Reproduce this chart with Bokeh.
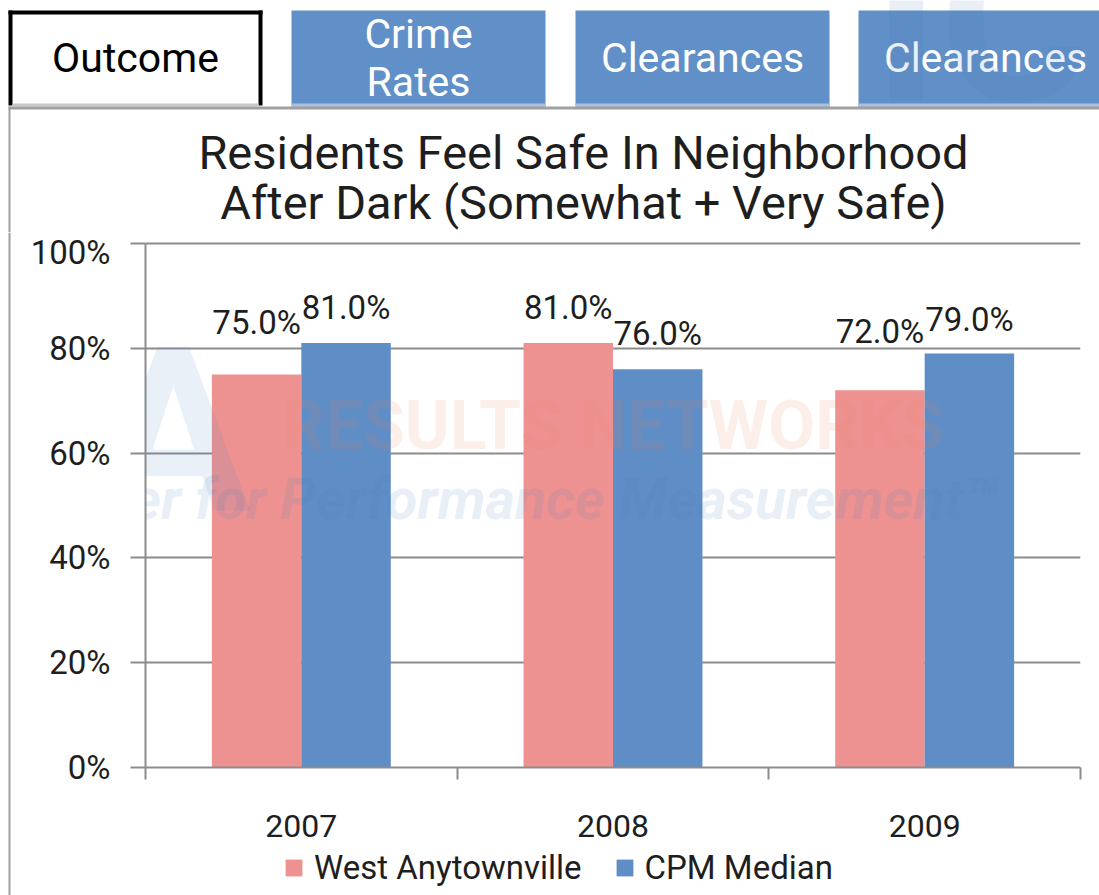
from bokeh.plotting import figure
from bokeh.layouts import column, row
from bokeh.models import (Range1d, LinearAxis, FixedTicker, ColumnDataSource,
                          LabelSet, Label, Legend, LegendItem, Grid)
from bokeh.transform import dodge
from bokeh.core.properties import value
from bokeh.embed import file_html
from bokeh.resources import INLINE

# ---------------- data ----------------
years = ["2007", "2008", "2009"]
west_anytownville = [0.75, 0.81, 0.72]
cpm_median = [0.81, 0.76, 0.79]
series_names = ["West Anytownville", "CPM Median"]
y_ticks = [0, 0.2, 0.4, 0.6, 0.8, 1.0]
y_tick_labels = ["0%", "20%", "40%", "60%", "80%", "100%"]
title_lines = ["Residents Feel Safe In Neighborhood", "After Dark (Somewhat + Very Safe)"]
tab_labels = [["Outcome"], ["Crime", "Rates"], ["Clearances"], ["Clearances"]]

# ---------------- style / layout ----------------
PINK = "#ee9191"
BLUE = "#5f8dc5"
TAB_BLUE = "#618fc7"
GRAY = "#8c8c8c"
FRAME_GRAY = "#a0a0a0"
TXT = "#1e1e1e"
FONT = "Roboto"
W, H = 1099, 895
TOP_H = 232          # header (tabs + title) height
CHART_BOTTOM = 849   # where the chart canvas ends and the legend strip begins
STRIP_W = 11         # left strip holding the slide-panel border line
FRAME_LEFT = 145
OFF = 0.1435
BAR_W = 0.287
wa_lift = [41, 24, 47]
cpm_lift = [24, 24, 23]


def blank(width, height, xr, yr):
    f = figure(width=width, height=height, x_range=xr, y_range=yr, output_backend="svg",
               toolbar_location=None, x_axis_location=None, y_axis_location=None,
               min_border=0, outline_line_color=None, background_fill_color="white",
               border_fill_color="white")
    f.center = []
    return f


# ---------------- header: tabs + title (pixel coordinates) ----------------
top = blank(W, TOP_H, Range1d(0, W), Range1d(TOP_H, 0))
top.quad(left=[291, 575, 858], right=[545, 829, 1110], top=10, bottom=106,
         fill_color=TAB_BLUE, line_color=None)
top.quad(left=[291, 575, 858], right=[545, 829, 1110], top=103, bottom=106,
         fill_color="#a9c1de", line_color=None)
top.quad(left=[8, 8, 258], right=[12, 262, 262], top=[10, 10, 10], bottom=[105, 14, 105],
         fill_color="black", line_color=None)
top.quad(left=12, right=258, top=103, bottom=106, fill_color="#c8c8c8", line_color=None)
top.quad(left=[8, 8], right=[W, 10], top=[106, 106], bottom=[109, TOP_H],
         fill_color=FRAME_GRAY, line_color=None)

tab_x, tab_y, tab_t, tab_c = [], [], [], []
for i, (cx, lines) in enumerate(zip([135, 418, 702, 985], tab_labels)):
    ys = [57] if len(lines) == 1 else [33, 81]
    for ln, yy in zip(lines, ys):
        tab_x.append(cx)
        tab_y.append(yy)
        tab_t.append(ln)
        tab_c.append("black" if i == 0 else "white")
top.text(x=tab_x, y=tab_y, text=tab_t, text_color=tab_c, text_font=value(FONT),
         text_font_size=value("41px"), text_align="center", text_baseline="alphabetic")
top.text(x=[583, 583], y=[152, 202], text=title_lines, text_color=TXT,
         text_font=value(FONT), text_font_size=value("47px"), text_align="center",
         text_baseline="alphabetic")
# watermark (top-right logo, cropped by the slide edge as in the original)
top.text(x=[872], y=[22], text=["IC"], text_color="#4f81bd", text_alpha=0.13,
         text_font=value(FONT), text_font_size=value("230px"), text_font_style="bold",
         text_align="left", text_baseline="alphabetic")

# ---------------- left strip: border line ----------------
strip = blank(STRIP_W, H - TOP_H, Range1d(0, STRIP_W), Range1d(H, TOP_H))
strip.quad(left=8, right=10, top=TOP_H, bottom=H, fill_color=FRAME_GRAY, line_color=None)

# ---------------- chart ----------------
PX_X0, PX_PER_CAT = float(FRAME_LEFT), 935.0 / 3
PX_Y0, PX_PER_UNIT = 767.0, 524.0


def fx(ix):
    return (ix - PX_X0) / PX_PER_CAT


def fy(iy):
    return (PX_Y0 - iy) / PX_PER_UNIT


p = figure(width=W - STRIP_W, height=CHART_BOTTOM - TOP_H, x_range=Range1d(0, len(years)),
           y_range=Range1d(0, 529.0 / 524.0), output_backend="svg", toolbar_location=None,
           x_axis_location=None, y_axis_location=None, min_border_left=FRAME_LEFT - STRIP_W,
           min_border_right=19, min_border_top=6, min_border_bottom=CHART_BOTTOM - 767,
           outline_line_color=None, background_fill_color="white", border_fill_color="white")
p.center = []

p.add_layout(Grid(dimension=1, ticker=FixedTicker(ticks=y_ticks), grid_line_color=GRAY,
                  grid_line_width=2))

yaxis = LinearAxis(ticker=FixedTicker(ticks=y_ticks), bounds=(y_ticks[0], y_ticks[-1]),
                   major_label_overrides={t: l for t, l in zip(y_ticks, y_tick_labels)},
                   axis_line_color=GRAY, axis_line_width=2,
                   major_tick_line_color=GRAY, major_tick_line_width=2,
                   major_tick_out=15, major_tick_in=0, minor_tick_line_color=None,
                   major_label_standoff=20, major_label_text_font=FONT,
                   major_label_text_font_size="33px", major_label_text_color=TXT)
p.add_layout(yaxis, "left")

centres = [i + 0.5 for i in range(len(years))]
bounds = [float(i) for i in range(len(years) + 1)]
xaxis = LinearAxis(ticker=FixedTicker(ticks=centres, minor_ticks=bounds),
                   major_label_overrides={c: y for c, y in zip(centres, years)},
                   axis_line_color=GRAY, axis_line_width=2,
                   major_tick_line_color=None, major_tick_out=12, major_tick_in=0,
                   minor_tick_line_color=GRAY, minor_tick_line_width=2,
                   minor_tick_out=12, minor_tick_in=0,
                   major_label_standoff=35, major_label_text_font=FONT,
                   major_label_text_font_size="32px", major_label_text_color=TXT)
p.add_layout(xaxis, "below")

src = ColumnDataSource(dict(
    year=years, pos=centres, wa=west_anytownville, cpm=cpm_median,
    wa_txt=[f"{v * 100:.1f}%" for v in west_anytownville],
    cpm_txt=[f"{v * 100:.1f}%" for v in cpm_median],
    wa_lift=wa_lift, cpm_lift=cpm_lift))

r1 = p.vbar(x=dodge("pos", -OFF), top="wa", width=BAR_W, source=src,
            fill_color=PINK, line_color=None)
r2 = p.vbar(x=dodge("pos", OFF), top="cpm", width=BAR_W, source=src,
            fill_color=BLUE, line_color=None)

for col, txt, lift, off in (("wa", "wa_txt", "wa_lift", -OFF), ("cpm", "cpm_txt", "cpm_lift", OFF)):
    p.add_layout(LabelSet(x=dodge("pos", off), y=col, text=txt, y_offset=lift, source=src,
                          text_align="center", text_baseline="alphabetic",
                          text_font=value(FONT), text_font_size=value("33px"),
                          text_color=TXT))


# watermark inside the plot area
def wm(x, y, text, size, color, align="center", style="bold", alpha=0.13):
    p.add_layout(Label(x=fx(x), y=fy(y), text=text, text_align=align,
                       text_baseline="alphabetic", text_font=FONT,
                       text_font_size=f"{size}px", text_color=color,
                       text_font_style=style, text_alpha=alpha))


wm(250, 432, "MA", 230, "#4f81bd", align="right", alpha=0.12)
wm(612, 425, "RESULTS NETWORKS", 68, "#e8825a", alpha=0.13)
wm(15, 499, "Center for Performance Measurement\u2122", 57, "#4f81bd", align="left",
   style="bold italic")
wm(887, 870, "IC", 230, "#4f81bd", align="left")

# ---------------- legend strip ----------------
# same series, drawn outside this strip's visible y-range so only the legend shows
LEG_H = H - CHART_BOTTOM
leg_fig = blank(W - STRIP_W, LEG_H, Range1d(0, len(years)), Range1d(2, 3))
lr1 = leg_fig.vbar(x=dodge("pos", -OFF), top="wa", width=BAR_W, source=src,
                   fill_color=PINK, line_color=None)
lr2 = leg_fig.vbar(x=dodge("pos", OFF), top="cpm", width=BAR_W, source=src,
                   fill_color=BLUE, line_color=None)
legend = Legend(items=[LegendItem(label=series_names[0], renderers=[lr1]),
                       LegendItem(label=series_names[1], renderers=[lr2])],
                orientation="horizontal", location=(283 - FRAME_LEFT, 8), glyph_width=21,
                glyph_height=21, label_standoff=10, spacing=32, padding=0, margin=0,
                border_line_color=None, background_fill_alpha=0,
                label_text_font=FONT, label_text_font_size="33px",
                label_text_color=TXT)
leg_fig.add_layout(legend)

layout = column(top, row(strip, column(p, leg_fig, spacing=0), spacing=0), spacing=0)
open("out.html", "w").write(file_html(layout, INLINE, title="Residents Feel Safe"))
